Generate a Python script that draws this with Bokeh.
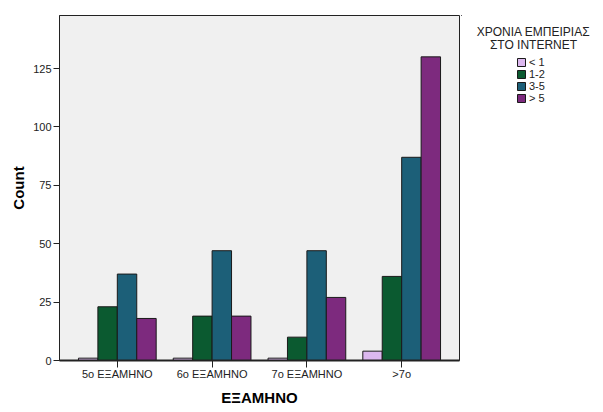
from bokeh.plotting import figure
from bokeh.layouts import row
from bokeh.models import FactorRange, Range1d, ColumnDataSource, Legend, LegendItem
from bokeh.transform import dodge
from bokeh.embed import file_html
from bokeh.resources import INLINE
from bokeh.core.properties import value

semesters = ["5ο ΕΞΑΜΗΝΟ", "6ο ΕΞΑΜΗΝΟ", "7ο ΕΞΑΜΗΝΟ", ">7ο"]
series_names = ["< 1", "1-2", "3-5", "> 5"]
lt1 = [1, 1, 1, 4]
y1_2 = [23, 19, 10, 36]
y3_5 = [37, 47, 47, 87]
gt5 = [18, 19, 27, 130]
colors = ["#dcb8ef", "#0b5a30", "#1c5f78", "#7d2a7e"]
y_ticks = [0, 25, 50, 75, 100, 125]
legend_title = ["ΧΡΟΝΙΑ ΕΜΠΕΙΡΙΑΣ", "ΣΤΟ INTERNET"]

src = ColumnDataSource(data=dict(sem=semesters, s0=lt1, s1=y1_2, s2=y3_5, s3=gt5))

FONT = "Liberation Sans"
p = figure(
    width=461, height=412,
    x_range=FactorRange(factors=semesters, range_padding=0.055, range_padding_units="percent"),
    y_range=Range1d(0, 147.7),
    output_backend="svg", toolbar_location=None,
    min_border_left=59, min_border_right=2, min_border_top=15, min_border_bottom=52,
)
p.background_fill_color = "#f0f0f0"
p.border_fill_color = "white"
p.outline_line_color = "#222222"
p.outline_line_width = 1
p.xgrid.visible = False
p.ygrid.visible = False

bw = 0.205
offsets = [-1.5 * bw, -0.5 * bw, 0.5 * bw, 1.5 * bw]
for i, key in enumerate(["s0", "s1", "s2", "s3"]):
    p.vbar(x=dodge("sem", offsets[i], range=p.x_range), top=key, width=bw, source=src,
           fill_color=colors[i], line_color="#1a1a1a", line_width=1)

p.yaxis.ticker = y_ticks
p.yaxis.minor_tick_line_color = None
p.yaxis.major_tick_out = 6
p.yaxis.major_tick_in = 0
p.yaxis.major_label_standoff = 2
p.yaxis.major_label_text_font = FONT
p.yaxis.major_label_text_font_size = "11px"
p.yaxis.major_label_text_color = "#222222"
p.yaxis.axis_label = "Count"
p.yaxis.axis_label_text_font = FONT
p.yaxis.axis_label_text_font_style = "bold"
p.yaxis.axis_label_text_font_size = "15px"
p.yaxis.axis_label_text_color = "black"
p.yaxis.axis_label_standoff = 3
p.yaxis.axis_line_color = "#222222"
p.yaxis.major_tick_line_color = "#222222"

p.xaxis.major_tick_out = 7
p.xaxis.major_tick_in = 0
p.xaxis.major_label_standoff = 0
p.xaxis.major_label_text_font = FONT
p.xaxis.major_label_text_font_size = "11px"
p.xaxis.major_label_text_color = "#222222"
p.xaxis.axis_label = "ΕΞΑΜΗΝΟ"
p.xaxis.axis_label_text_font = FONT
p.xaxis.axis_label_text_font_style = "bold"
p.xaxis.axis_label_text_font_size = "15px"
p.xaxis.axis_label_text_color = "black"
p.xaxis.axis_label_standoff = 6
p.xaxis.axis_line_color = "#222222"
p.xaxis.axis_line_width = 2
p.xaxis.major_tick_line_color = "#222222"

# legend panel: its frame is aligned with the main frame (canvas y 15..360, x 461..603)
lg = figure(width=142, height=412, x_range=Range1d(461, 603), y_range=Range1d(360, 15),
            output_backend="svg", toolbar_location=None, title=None,
            min_border_left=0, min_border_right=0, min_border_top=0, min_border_bottom=0)
lg.axis.visible = False
lg.grid.visible = False
lg.outline_line_color = None
lg.background_fill_color = "white"

lg.text(x=[533, 533], y=[31, 44], text=legend_title, text_align="center", text_baseline="middle",
        text_font=value(FONT), text_font_size="12px", text_color="#222222")

dummy = []
for i in range(4):
    dummy.append(lg.vbar(x=[0], top=[0], width=1, fill_color=colors[i], line_color="#1a1a1a"))
items = [LegendItem(label=series_names[i], renderers=[dummy[i]]) for i in range(4)]
legend = Legend(items=items, location=(55, 256), padding=0, margin=0,
                glyph_width=10, glyph_height=10, label_height=10, label_standoff=3,
                spacing=0, label_text_font=FONT, label_text_font_size="11px",
                label_text_color="#222222", border_line_color=None,
                background_fill_alpha=0)
lg.add_layout(legend, "center")

layout = row(p, lg, spacing=0)
open("out.html", "w").write(file_html(layout, INLINE))
